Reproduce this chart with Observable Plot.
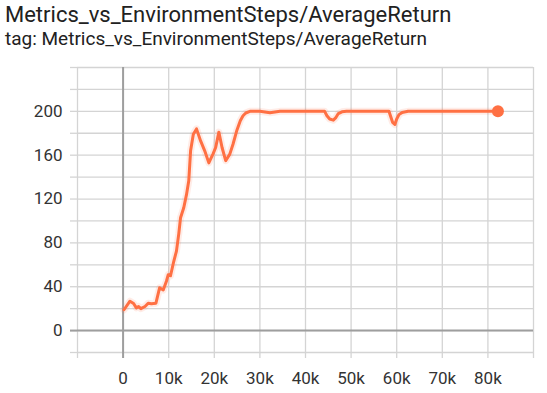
<!DOCTYPE html>
<html>
<head>
<meta charset="utf-8">
<script src="https://cdn.jsdelivr.net/npm/d3@7"></script>
<script src="https://cdn.jsdelivr.net/npm/@observablehq/plot@0.6"></script>
<style>
  html, body { margin: 0; padding: 0; background: #fff; }
  body { width: 547px; height: 393px; overflow: hidden; font-family: Roboto, sans-serif; }
  #title { font-size: 22px; line-height: 30px; height: 30px; color: #212121; padding-left: 5px; white-space: nowrap; }
  #subtitle { font-size: 19px; line-height: 17px; height: 17px; color: #212121; padding-left: 5px; white-space: nowrap; }
  #chart svg { display: block; }
</style>
</head>
<body>
<div id="title">Metrics_vs_EnvironmentSteps/AverageReturn</div>
<div id="subtitle">tag: Metrics_vs_EnvironmentSteps/AverageReturn</div>
<div id="chart"></div>
<script>
const steps = [200, 1500, 2300, 2900, 3400, 3900, 4800, 5500, 6200, 7200, 8000, 8800, 9500, 9900, 10400, 11100, 11700, 12200, 12600, 13300, 13900, 14400, 14800, 15400, 16100, 17000, 17900, 18800, 19700, 20300, 21000, 21700, 22500, 23400, 24100, 24900, 25700, 26300, 26900, 27800, 30000, 32200, 34400, 44200, 44700, 45300, 46100, 46600, 47200, 48000, 49000, 58300, 58700, 59100, 59600, 60000, 60500, 61200, 62500, 82200];
const values = [19, 26.8, 24.7, 20.7, 22, 20, 22, 25, 24.5, 25, 39, 37, 45, 51, 50, 63, 72.5, 88, 103, 112, 124, 136.6, 164, 179, 184, 173, 164, 153, 161, 167, 181, 167, 155, 161, 170, 182, 191.5, 196, 198.5, 200, 200, 198.8, 200, 200, 196, 193, 192, 194, 198, 199.6, 200, 200, 195, 190, 188, 193, 197, 199, 200, 200];
const xGrid = [-10000, 0, 10000, 20000, 30000, 40000, 50000, 60000, 70000, 80000, 90000];
const xLabels = [0, 10000, 20000, 30000, 40000, 50000, 60000, 70000, 80000];
const yGrid = [-20, 0, 20, 40, 60, 80, 100, 120, 140, 160, 180, 200, 220, 240];
const yLabels = [0, 40, 80, 120, 160, 200];

const data = steps.map((s, i) => ({step: s, value: values[i]}));
const last = data[data.length - 1];
const lineColor = "#ff7043";
const gridColor = "#d4d4d4";
const zeroColor = "#9e9e9e";

const fmtX = d => xLabels.includes(d) ? (d === 0 ? "0" : (d / 1000) + "k") : "";
const fmtY = d => yLabels.includes(d) ? String(d) : "";

const chart = Plot.plot({
  width: 547,
  height: 346,
  marginLeft: 77,
  marginRight: 14,
  marginTop: 20,
  marginBottom: 41,
  style: {fontFamily: "Roboto, sans-serif", fontSize: "17px", color: "#333", background: "#fff"},
  x: {domain: [-10000, 90000]},
  y: {domain: [-20, 240]},
  marks: [
    Plot.ruleX(xGrid, {stroke: gridColor, strokeWidth: 1.3}),
    Plot.ruleY(yGrid, {stroke: gridColor, strokeWidth: 1.3}),
    Plot.axisX(xGrid, {tickSize: 6, tickPadding: 13, stroke: gridColor, strokeWidth: 1.3, tickFormat: fmtX, label: null, fill: "#333"}),
    Plot.axisY(yGrid, {tickSize: 7, tickPadding: 8, stroke: gridColor, strokeWidth: 1.3, tickFormat: fmtY, label: null, fill: "#333"}),
    Plot.ruleX([0], {stroke: zeroColor, strokeWidth: 2}),
    Plot.ruleY([0], {stroke: zeroColor, strokeWidth: 2}),
    Plot.axisX([0], {tickSize: 6, stroke: zeroColor, strokeWidth: 2, tickFormat: () => "", label: null}),
    Plot.axisY([0], {tickSize: 7, stroke: zeroColor, strokeWidth: 2, tickFormat: () => "", label: null}),
    Plot.line(data, {x: "step", y: "value", stroke: lineColor, strokeWidth: 7, strokeOpacity: 0.13}),
    Plot.line(data, {x: "step", y: "value", stroke: lineColor, strokeWidth: 3, strokeLinejoin: "round"}),
    Plot.dot([last], {x: "step", y: "value", r: 6, fill: lineColor, stroke: null})
  ]
});
document.getElementById("chart").appendChild(chart);
</script>
</body>
</html>
